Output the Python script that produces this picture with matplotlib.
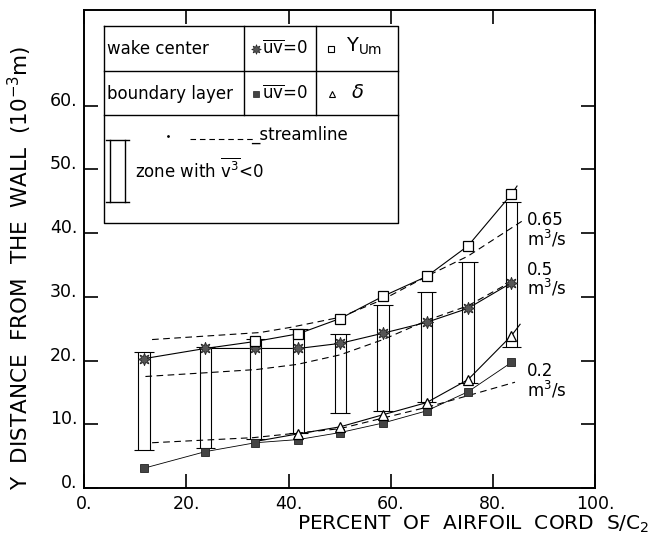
from matplotlib import pyplot as plt

plt.rcParams['font.family'] = 'DejaVu Sans'
plt.rcParams['mathtext.fontset'] = 'dejavusans'

# measuring stations (percent of airfoil cord)
stations = [11.7, 23.7, 33.5, 41.9, 50.1, 58.5, 67.0, 75.1, 83.6]
# zone with v^3 < 0 (top / bottom of each bar)
zone_top = [21.3, 22.1, 23.4, 24.9, 24.2, 28.7, 30.7, 35.4, 44.9]
zone_bot = [6.0, 6.3, 7.7, 8.7, 11.7, 12.1, 13.5, 16.4, 22.2]
# wake center uv=0 and boundary layer uv=0
wake_uv0 = [20.3, 21.9, 21.9, 21.9, 22.7, 24.3, 26.0, 28.2, 32.2]
bl_uv0 = [3.1, 5.7, 7.1, 7.6, 8.7, 10.2, 12.1, 15.1, 19.7]
# Y_Um (open squares)
yum_x = [33.5, 41.9, 50.1, 58.5, 67.0, 75.1, 83.6]
yum = [23.0, 24.2, 26.6, 30.1, 33.2, 38.0, 46.1]
yum_curve_x = [23.7, 33.5, 41.9, 50.1, 58.5, 67.0, 75.1, 83.6, 84.7]
yum_curve_y = [21.9, 23.0, 24.2, 26.6, 30.1, 33.2, 38.0, 46.1, 47.4]
# delta (triangles)
delta_x = [41.9, 50.1, 58.5, 67.0, 75.1, 83.6]
delta = [8.5, 9.6, 11.5, 13.4, 17.0, 23.9]
delta_curve_x = [33.5, 41.9, 50.1, 58.5, 67.0, 75.1, 83.6, 85.3]
delta_curve_y = [7.3, 8.5, 9.6, 11.5, 13.4, 17.0, 23.9, 25.7]
# streamlines
s065_x = [13.3, 34.4, 40.3, 50.1, 58.5, 67.7, 75.1, 85.7]
s065_y = [23.3, 24.4, 25.2, 26.8, 29.6, 33.5, 36.4, 41.9]
s05_x = [12.0, 24.1, 33.8, 41.7, 50.1, 58.5, 67.7, 75.1, 83.4]
s05_y = [17.5, 18.1, 18.6, 19.4, 20.9, 23.3, 26.5, 28.6, 32.3]
s02_x = [13.3, 33.1, 50.0, 67.7, 84.3]
s02_y = [7.1, 7.9, 9.3, 12.8, 16.6]
flow_labels = ['0.65\nm$^3$/s', '0.5\nm$^3$/s', '0.2\nm$^3$/s']
flow_label_y = [40.5, 32.7, 16.7]

xticks = [0, 20, 40, 60, 80, 100]
yticks = [0, 10, 20, 30, 40, 50, 60]

fig = plt.figure(figsize=(6.57, 5.38), dpi=100)
ax = fig.add_axes([0.128, 0.093, 0.778, 0.888])
ax.set_xlim(0, 100)
ax.set_ylim(0, 75)

lw = 0.8
# bars of the zone with v^3 < 0
bw, cw = 1.1, 1.9
for x, t, b in zip(stations, zone_top, zone_bot):
    ax.vlines([x - bw, x + bw], b, t, color='black', lw=lw)
    ax.hlines([b, t], x - cw, x + cw, color='black', lw=lw)

# streamlines
dash = dict(color='black', lw=lw, ls=(0, (6, 4)))
ax.plot(s065_x, s065_y, **dash)
ax.plot(s05_x, s05_y, **dash)
ax.plot(s02_x, s02_y, **dash)

# curves
ax.plot(stations, wake_uv0, color='black', lw=lw)
ax.plot(stations, bl_uv0, color='black', lw=0.6)
ax.plot(yum_curve_x, yum_curve_y, color='black', lw=lw)
ax.plot(delta_curve_x, delta_curve_y, color='black', lw=lw)

# markers
ax.plot(stations, wake_uv0, ls='none', marker=(8, 1, 0), ms=9,
        mfc='#555555', mec='#222222', mew=0.6)
ax.plot(stations, bl_uv0, ls='none', marker='s', ms=6,
        mfc='#444444', mec='#222222', mew=0.6)
ax.plot(yum_x, yum, ls='none', marker='s', ms=7,
        mfc='white', mec='black', mew=0.9)
ax.plot(delta_x, delta, ls='none', marker='^', ms=7,
        mfc='white', mec='black', mew=0.9)

for lab, y in zip(flow_labels, flow_label_y):
    ax.text(86.7, y, lab, fontsize=12, va='center', ha='left',
            linespacing=0.95)

# axes / ticks
for s in ax.spines.values():
    s.set_linewidth(1.4)
ax.set_xticks(xticks)
ax.set_xticklabels([f'{v}.' for v in xticks])
ax.set_yticks(yticks)
ax.set_yticklabels([f'{v}.' for v in yticks])
ax.tick_params(direction='in', length=10, width=1.2, top=True, right=True,
               labelsize=12.5)
ax.tick_params(axis='x', pad=5)
ax.tick_params(axis='y', pad=5)
for lab in ax.get_yticklabels():
    lab.set_va('baseline')

fig.text(0.988, 0.006, 'PERCENT  OF  AIRFOIL  CORD  S/C$_2$',
         ha='right', va='bottom', fontsize=14.5)
fig.text(20 / 657, 0.503, 'Y  DISTANCE  FROM  THE  WALL  (10$^{-3}$m)',
         rotation=90, ha='center', va='center', fontsize=15.5)

# legend table
T = ax.transAxes
L, R = 0.039, 0.614
top, r1, r2, bot = 0.967, 0.872, 0.780, 0.554
c1, c2 = 0.313, 0.454
kw = dict(color='black', lw=1.0, transform=T, clip_on=False)
ax.plot([L, R, R, L, L], [top, top, bot, bot, top], **kw)
ax.plot([L, R], [r1, r1], **kw)
ax.plot([L, R], [r2, r2], **kw)
ax.plot([c1, c1], [top, r2], **kw)
ax.plot([c2, c2], [top, r2], **kw)

ax.text(0.045, 0.918, 'wake center', transform=T, fontsize=12, va='center')
ax.text(0.045, 0.824, 'boundary layer', transform=T, fontsize=12, va='center')
ax.plot([0.336], [0.918], transform=T, marker=(8, 1, 0), ms=7,
        mfc='#555555', mec='#222222', mew=0.5)
ax.text(0.348, 0.918, r'$\overline{\mathrm{uv}}$=0', transform=T,
        fontsize=12, va='center')
ax.plot([0.336], [0.824], transform=T, marker='s', ms=5,
        mfc='#444444', mec='#222222', mew=0.5)
ax.text(0.348, 0.824, r'$\overline{\mathrm{uv}}$=0', transform=T,
        fontsize=12, va='center')
ax.plot([0.483], [0.918], transform=T, marker='s', ms=5,
        mfc='white', mec='black', mew=0.8)
ax.text(0.512, 0.925, r'Y$_{\mathrm{Um}}$', transform=T, fontsize=14,
        va='center')
ax.plot([0.485], [0.824], transform=T, marker='^', ms=5,
        mfc='white', mec='black', mew=0.8)
ax.text(0.522, 0.828, r'$\delta$', transform=T, fontsize=14, va='center')

# streamline + zone entries
ax.plot([0.164], [0.736], transform=T, marker='.', ms=2, color='black')
ax.plot([0.207, 0.331], [0.731, 0.731], transform=T, color='black', lw=0.8,
        ls=(0, (5, 3.5)))
ax.text(0.326, 0.740, '_streamline', transform=T, fontsize=12, va='center')
ax.plot([0.051, 0.051], [0.598, 0.728], **kw)
ax.plot([0.080, 0.080], [0.598, 0.728], **kw)
ax.plot([0.043, 0.088], [0.598, 0.598], **kw)
ax.plot([0.043, 0.088], [0.728, 0.728], **kw)
ax.text(0.100, 0.665, r'zone with $\overline{\mathrm{v}^3}$<0', transform=T,
        fontsize=12, va='center')

fig.savefig('out.png', dpi=100)
